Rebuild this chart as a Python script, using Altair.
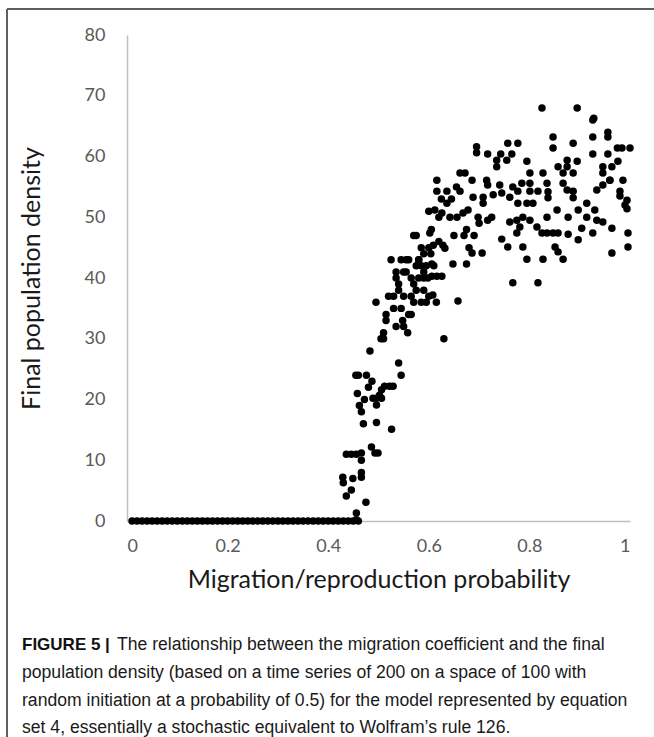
import altair as alt
import pandas as pd

# Runs that ended with no surviving population (density 0)
zero_prob = [0.01, 0.02, 0.03, 0.04, 0.05, 0.06, 0.07, 0.08, 0.09, 0.10,
             0.11, 0.12, 0.13, 0.14, 0.15, 0.16, 0.17, 0.18, 0.19, 0.20,
             0.21, 0.22, 0.23, 0.24, 0.25, 0.26, 0.27, 0.28, 0.29, 0.30,
             0.31, 0.32, 0.33, 0.34, 0.35, 0.36, 0.37, 0.38, 0.39, 0.40,
             0.41, 0.42, 0.43, 0.44, 0.45, 0.46]

# Transition region
rise_prob = [0.429, 0.430, 0.436, 0.436, 0.446, 0.446, 0.449, 0.456, 0.456, 0.456,
             0.466, 0.466, 0.466, 0.466, 0.475, 0.486, 0.493, 0.499,
             0.455, 0.458, 0.462, 0.466, 0.470, 0.472, 0.476, 0.480, 0.483, 0.489,
             0.496, 0.506, 0.496, 0.496, 0.502, 0.506, 0.512, 0.522, 0.529, 0.526,
             0.495, 0.510, 0.515, 0.520, 0.525, 0.530, 0.535, 0.535, 0.540, 0.540,
             0.545, 0.548, 0.550, 0.555, 0.558, 0.560, 0.565, 0.570, 0.570, 0.575,
             0.580, 0.580, 0.585, 0.590, 0.590, 0.595, 0.598, 0.600, 0.604, 0.605,
             0.610, 0.615, 0.620, 0.620, 0.625, 0.630,
             0.487, 0.505, 0.510, 0.515, 0.530, 0.535, 0.540, 0.545, 0.545, 0.550,
             0.550, 0.555, 0.560, 0.565, 0.565, 0.570, 0.575, 0.575, 0.580, 0.585,
             0.585, 0.590, 0.590, 0.595, 0.600, 0.600, 0.460]
rise_density = [7.2, 6.3, 4.1, 11.0, 11.0, 5.1, 7.0, 11.0, 1.3, 0.2,
                11.2, 10.0, 7.2, 8.0, 3.1, 12.2, 11.2, 11.2,
                24.0, 21.0, 19.0, 18.0, 16.0, 20.0, 24.0, 22.0, 28.0, 20.2,
                20.2, 20.2, 19.1, 16.2, 20.7, 21.6, 22.2, 22.2, 22.2, 15.1,
                36.0, 30.0, 33.0, 37.0, 43.0, 35.0, 32.0, 40.0, 38.0, 26.0,
                24.0, 33.0, 41.0, 43.0, 31.0, 34.0, 37.0, 36.0, 47.0, 42.0,
                43.0, 40.0, 45.0, 38.0, 41.0, 36.0, 40.0, 51.0, 44.0, 48.0,
                42.0, 36.0, 46.0, 50.0, 53.0, 30.0,
                23.0, 30.0, 31.0, 34.0, 37.0, 41.0, 39.0, 43.0, 35.0, 37.0,
                32.0, 41.0, 43.0, 40.0, 34.0, 39.0, 47.0, 38.0, 43.0, 42.0,
                36.0, 44.0, 40.0, 42.0, 37.0, 45.0, 24.0]

# Saturated region
sat_prob = [0.825, 0.895, 0.928, 0.926, 0.956, 0.956, 0.847, 0.926, 0.757, 0.777,
            0.887, 0.847, 0.984, 1.000, 0.695, 0.695, 0.717, 0.743, 0.765, 0.735,
            0.735, 0.755, 0.795, 0.875, 0.895, 0.926, 0.956, 0.857, 0.875, 0.946,
            0.964, 0.976, 0.662, 0.672, 0.686, 0.616, 0.715, 0.801, 0.827, 0.867,
            0.887, 0.946, 0.960, 0.986, 0.785, 0.801, 0.835, 0.717, 0.741, 0.616,
            0.636, 0.662, 0.767, 0.777, 0.801, 0.817, 0.867, 0.875, 0.887, 0.934,
            0.946, 0.960, 0.980, 0.980, 0.688, 0.708, 0.728, 0.745, 0.761, 0.837,
            0.837, 0.887, 0.914, 0.994, 0.994, 0.636, 0.708, 0.777, 0.795, 0.807,
            0.855, 0.612, 0.626, 0.642, 0.656, 0.668, 0.678, 0.698, 0.717, 0.725,
            0.761, 0.775, 0.781, 0.787, 0.801, 0.815, 0.825, 0.835, 0.847, 0.857,
            0.835, 0.877, 0.897, 0.914, 0.930, 0.934, 0.946, 0.904, 0.926, 0.964,
            0.996, 0.602, 0.609, 0.628, 0.632, 0.745, 0.757, 0.775, 0.787, 0.851,
            0.857, 0.877, 0.897, 0.996, 0.686, 0.706, 0.867, 0.964, 0.795, 0.827,
            0.606, 0.648, 0.675, 0.606, 0.616, 0.626, 0.767, 0.817, 0.608, 0.658,
            0.670, 0.675, 0.680, 0.690, 0.700, 0.650, 0.655, 0.645, 0.975, 0.990]
sat_density = [68.0, 68.0, 66.3, 66.0, 64.0, 63.2, 63.2, 63.2, 62.2, 62.2,
               62.2, 61.4, 61.4, 61.4, 61.6, 60.6, 60.4, 60.4, 60.4, 59.4,
               58.3, 59.4, 59.2, 59.4, 59.2, 60.4, 60.4, 58.3, 58.3, 58.3,
               58.3, 59.2, 57.3, 57.3, 56.1, 56.1, 56.1, 57.3, 57.3, 57.3,
               57.3, 57.3, 56.1, 56.1, 55.6, 55.6, 55.6, 55.3, 55.3, 54.3,
               54.3, 54.3, 55.0, 54.3, 54.3, 54.3, 55.6, 54.5, 54.3, 54.5,
               55.3, 56.1, 54.3, 53.5, 53.3, 53.3, 53.7, 54.0, 53.3, 54.2,
               53.2, 53.2, 52.3, 52.8, 51.4, 52.3, 52.3, 52.3, 52.3, 52.3,
               51.2, 51.2, 50.7, 50.0, 50.0, 50.7, 51.2, 50.0, 49.5, 50.0,
               49.2, 49.5, 48.4, 50.0, 49.5, 48.4, 47.4, 47.4, 47.4, 47.4,
               50.0, 50.0, 51.2, 50.0, 51.2, 49.5, 49.2, 48.2, 47.4, 48.2,
               47.4, 47.4, 45.4, 45.4, 44.9, 46.4, 45.1, 47.4, 45.1, 45.1,
               44.3, 47.2, 46.3, 45.1, 44.1, 44.1, 43.1, 44.1, 43.1, 43.1,
               42.3, 42.3, 42.3, 40.3, 40.3, 40.3, 39.2, 39.2, 37.2, 36.2,
               47.0, 48.0, 45.0, 47.0, 49.0, 47.0, 55.0, 53.0, 61.4, 52.0]

caption_bold = "FIGURE 5 |"
caption_lines = [
    "The relationship between the migration coefficient and the final",
    "population density (based on a time series of 200 on a space of 100 with",
    "random initiation at a probability of 0.5) for the model represented by equation",
    "set 4, essentially a stochastic equivalent to Wolfram\u2019s rule 126.",
]

points = pd.DataFrame({
    "p": zero_prob + rise_prob + sat_prob,
    "d": [0.0] * len(zero_prob) + rise_density + sat_density,
})

W, H = 503, 486
LEFT, TOP = 127, 35

scatter = alt.Chart(points).mark_circle(size=56, color="black", opacity=1).encode(
    x=alt.X("p:Q", scale=alt.Scale(domain=[0, 1], nice=False),
            axis=alt.Axis(values=[0, 0.2, 0.4, 0.6, 0.8, 1], format="~g",
                          title="Migration/reproduction probability")),
    y=alt.Y("d:Q", scale=alt.Scale(domain=[0, 80], nice=False),
            axis=alt.Axis(values=[0, 10, 20, 30, 40, 50, 60, 70, 80],
                          title="Final population density")),
)

axis_cfg = dict(
    domainColor="#bfbfbf", domainWidth=1.5, ticks=False, grid=False,
    labelFont="Lato", labelFontSize=18, labelColor="#595959",
    titleFont="Lato", titleFontSize=25, titleFontWeight="normal", titleColor="#1a1a1a",
)

# Figure frame: top and left rules
frame_top = alt.Chart(pd.DataFrame({"k": [0]})).mark_rule(color="#5f5f5f", strokeWidth=2).encode(
    x=alt.value(7 - LEFT), x2=alt.value(654 - LEFT), y=alt.value(9 - TOP))
frame_left = alt.Chart(pd.DataFrame({"k": [0]})).mark_rule(color="#5f5f5f", strokeWidth=2).encode(
    x=alt.value(7 - LEFT), y=alt.value(9 - TOP), y2=alt.value(737 - TOP))

cap_layers = []
bold = alt.Chart(pd.DataFrame({"t": [caption_bold]})).mark_text(
    align="left", baseline="middle", font="Liberation Sans", fontSize=17,
    fontWeight="bold", color="#111111").encode(
    text="t:N", x=alt.value(22 - LEFT), y=alt.value(645 - TOP))
cap_layers.append(bold)
line_y = [645, 673, 701, 728]
line_x = [117, 22, 22, 22]
for txt, yy, xx in zip(caption_lines, line_y, line_x):
    cap_layers.append(
        alt.Chart(pd.DataFrame({"t": [txt]})).mark_text(
            align="left", baseline="middle", font="Liberation Sans", fontSize=17.6,
            color="#1a1a1a").encode(
            text="t:N", x=alt.value(xx - LEFT), y=alt.value(yy - TOP))
    )

chart = alt.layer(scatter, frame_top, frame_left, *cap_layers).properties(
    width=W, height=H,
    autosize=alt.AutoSizeParams(type="none"),
    padding={"left": LEFT, "top": TOP, "right": 654 - LEFT - W, "bottom": 737 - TOP - H},
).configure_view(stroke=None).configure_axisX(
    labelPadding=16, titlePadding=12, **axis_cfg
).configure_axisY(
    labelPadding=22, titlePadding=40, **axis_cfg
)

chart.save("out.html", embed_options={"renderer": "svg", "actions": False})
